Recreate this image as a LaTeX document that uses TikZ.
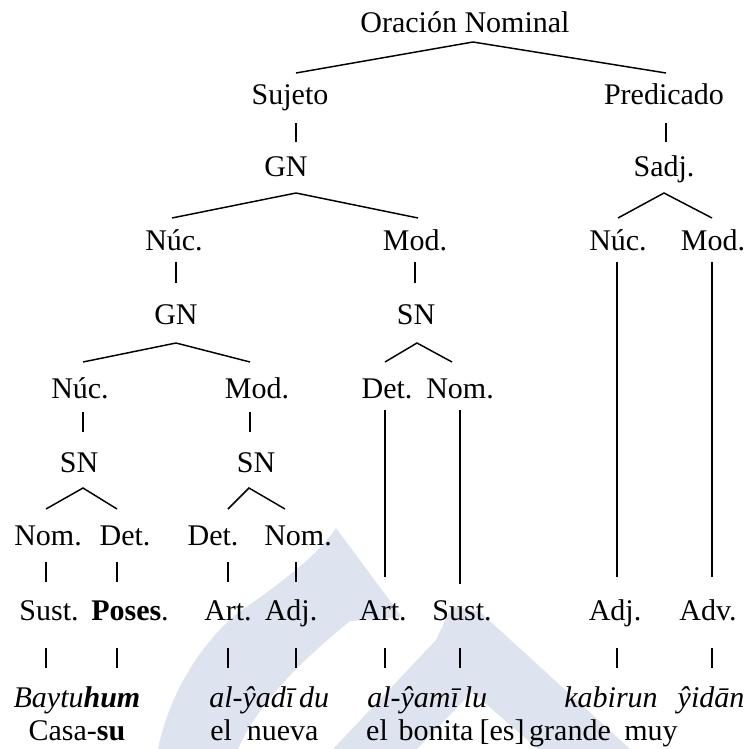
\documentclass[tikz,border=0pt]{standalone}
\usepackage{fontspec}
\setmainfont{Liberation Serif}
\definecolor{markfill}{RGB}{221,227,239}
\newcommand\vstem[4]{%
  \coordinate (#1t) at (#2,#3);
  \coordinate (#1b) at (#2,#4);
  \draw[edge] (#1t) -- (#1b);}
\newcommand\vfork[6]{%
  \coordinate (#1a) at (#2,#3);
  \coordinate (#1l) at (#4,#6);
  \coordinate (#1r) at (#5,#6);
  \draw[edge] (#1l) -- (#1a) -- (#1r);}
\begin{document}
\begin{tikzpicture}[x=0.75pt,y=-0.75pt,
  lbl/.style={anchor=base, inner sep=0pt, font=\fontsize{22.5}{27}\selectfont},
  lbll/.style={lbl, anchor=base west},
  edge/.style={line width=1.1pt},
  wm/.style={fill=markfill, draw=none}]
\useasboundingbox (0,0) rectangle (753,749);

% background logo
\fill[wm] (336,528) -- (402,617) -- (350,621)
  .. controls (315,650) and (262,695) .. (238,749) -- (158,749)
  .. controls (168,700) and (195,650) .. (235,615)
  .. controls (285,580) and (318,555) .. cycle;
\fill[wm] (333,749) -- (436,640) -- (452,606) -- (480,612) -- (630,749)
  -- (538,749) -- (472,692) -- (417,749) -- cycle;

% level 1
\node[lbl] (on) at (465,33) {Oración Nominal};
% level 2
\node[lbl] (suj) at (290,104) {Sujeto};
\node[lbl] (pred) at (664,104) {Predicado};
% level 3
\node[lbl] (gn1) at (286,176) {GN};
\node[lbl] (sadj) at (664,176) {Sadj.};
% level 4
\node[lbl] (nuc1) at (174,250) {Núc.};
\node[lbl] (mod1) at (415,250) {Mod.};
\node[lbl] (nuc2) at (618,250) {Núc.};
\node[lbl] (mod2) at (713,250) {Mod.};
% level 5
\node[lbl] (gn2) at (176,324) {GN};
\node[lbl] (sn1) at (416,324) {SN};
% level 6
\node[lbl] (nuc3) at (80,398) {Núc.};
\node[lbl] (mod3) at (257,398) {Mod.};
\node[lbl] (det1) at (387,398) {Det.};
\node[lbl] (nom1) at (460,398) {Nom.};
% level 7
\node[lbl] (sn2) at (79,472) {SN};
\node[lbl] (sn3) at (256,472) {SN};
% level 8
\node[lbl] (nom2) at (48,545) {Nom.};
\node[lbl] (det2) at (125,545) {Det.};
\node[lbl] (det3) at (213,545) {Det.};
\node[lbl] (nom3) at (298,545) {Nom.};
% level 9: word classes
\node[lbl] (c1) at (49,620) {Sust.};
\node[lbl] (c2) at (130,620) {\textbf{Poses}.};
\node[lbl] (c3) at (228,620) {Art.};
\node[lbl] (c4) at (291,620) {Adj.};
\node[lbl] (c5) at (383,620) {Art.};
\node[lbl] (c6) at (462,620) {Sust.};
\node[lbl] (c7) at (615,620) {Adj.};
\node[lbl] (c8) at (708,620) {Adv.};
% transliteration
\node[lbl] (w1) at (77,707) {\textit{Baytu\textbf{hum}}};
\node[lbll] (w2) at (209,707) {\textit{al-ŷadī\,du}};
\node[lbll] (w3) at (367,707) {\textit{al-ŷamī\,lu}};
\node[lbl] (w4) at (611,707) {\textit{kabirun}};
\node[lbl] (w5) at (711,707) {\textit{ŷidān}};
% gloss
\node[lbl] (g1) at (77,740) {Casa-\textbf{su}};
\node[lbll] (g2) at (210,740) {el\ \ nueva};
\node[lbl] (g3) at (377,740) {el};
\node[lbl] (g4) at (436,740) {bonita};
\node[lbl] (g5) at (502,740) {[es]};
\node[lbl] (g6) at (570,740) {grande};
\node[lbl] (g7) at (651,740) {muy};

% branches
\vfork{fa}{473}{42}{296}{666}{73}
\vstem{sa}{296}{123}{142}
\vstem{sb}{666}{123}{142}
\vfork{fb}{296}{193}{172}{418}{218}
\vfork{fc}{664}{193}{618}{712}{218}
\vstem{sc}{176}{262}{283}
\vstem{sd}{415}{262}{283}
\vstem{se}{617}{262}{577}
\vstem{sf}{712}{262}{577}
\vfork{fd}{176}{343}{83}{250}{362}
\vfork{fe}{417}{343}{385}{452}{362}
\vstem{sg}{83}{412}{432}
\vstem{sh}{250}{412}{432}
\vstem{si}{385}{410}{577}
\vstem{sj}{460}{410}{584}
\vfork{ff}{83}{488}{46}{117}{509}
\vfork{fg}{249}{488}{228}{285}{509}
\vstem{sk}{46}{562}{582}
\vstem{sl}{117}{562}{582}
\vstem{sm}{228}{562}{582}
\vstem{sn}{296}{562}{582}
\vstem{la}{46}{648}{668}
\vstem{lb}{117}{648}{668}
\vstem{lc}{228}{648}{668}
\vstem{ld}{296}{648}{668}
\vstem{le}{385}{648}{668}
\vstem{lf}{460}{648}{668}
\vstem{lg}{617}{648}{668}
\vstem{lh}{712}{648}{668}
\end{tikzpicture}
\end{document}
